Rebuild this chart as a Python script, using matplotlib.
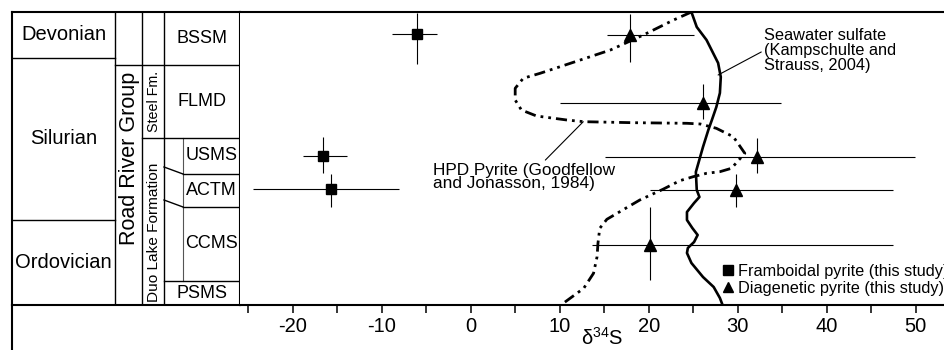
import matplotlib.pyplot as plt
import numpy as np
from matplotlib.lines import Line2D

plt.rcParams['font.family'] = ['Liberation Sans', 'DejaVu Sans']
plt.rcParams['mathtext.fontset'] = 'custom'
plt.rcParams['mathtext.rm'] = 'Liberation Sans'
plt.rcParams['axes.unicode_minus'] = False

# stratigraphic height, 0 = base of PSMS
section_top = 293
periods = ['Devonian', 'Silurian', 'Ordovician']
period_bounds = [293, 247, 85, 0]
members = ['BSSM', 'FLMD', 'USMS', 'ACTM', 'CCMS', 'PSMS']
member_bounds = [293, 240.5, 167.5, 131, 98, 24, 0]
group_base = 240.5      # top of Road River Group
steel_base = 167.5      # Steel Fm. / Duo Lake Formation

# framboidal pyrite (squares)
fram_d34s = [-6.0, -16.6, -15.7]
fram_min = [-8.8, -18.8, -24.5]
fram_max = [-3.8, -13.9, -8.1]
fram_pos = [270.7, 149.3, 115.7]
fram_bot = [241, 132, 98]
fram_top = [292, 168, 131]

# diagenetic pyrite (triangles)
diag_d34s = [17.9, 26.1, 32.2, 29.8, 20.1]
diag_min = [15.3, 10.0, 15.1, 20.1, 13.6]
diag_max = [25.1, 34.9, 49.9, 47.4, 47.4]
diag_pos = [270, 202.3, 148.5, 115.5, 60]
diag_bot = [242.7, 185.7, 131.7, 98.3, 25]
diag_top = [291, 221, 167, 131, 97.7]

# seawater sulfate curve (Kampschulte and Strauss, 2004)
sw_d34s = [24.8, 25.4, 26.5, 27.8, 28.1, 28.0, 27.6, 27.1, 26.7, 26.1, 25.3, 25.4, 25.7,
           25.1, 24.3, 24.3, 24.9, 25.5, 25.1, 24.4, 24.3, 24.8, 26.1, 27.3, 28.0, 28.3]
sw_pos = [293, 278, 265, 242, 228, 212, 198, 185, 175, 158, 133, 115, 108,
          102, 93, 85, 77, 70, 63, 57, 52, 42, 28, 18, 7, 0]

# HPD pyrite curve (Goodfellow and Jonasson, 1984)
hpd_d34s = [24.8, 22.8, 19.4, 15.7, 11.2, 7.8, 5.9, 5.0, 5.0, 5.7, 7.4, 10.8, 12.7, 18.3,
            24.3, 25.8, 27.6, 29.5, 29.9, 30.8, 29.3, 28.0, 26.5, 25.0, 23.5, 21.6, 19.0,
            15.3, 14.5, 14.3, 14.2, 13.8, 12.7, 10.4]
hpd_pos = [293, 285, 270, 255, 241.7, 231.7, 226.7, 216.7, 205, 195, 189, 185, 183.3, 182.3,
           181.7, 181, 176.7, 168.3, 163.3, 151.7, 136.7, 133.3, 131.7, 128.3, 124.3, 115.7, 105,
           85.7, 76.7, 61.7, 48.3, 31.7, 16.7, 1.7]

W, H = 944, 350
fig = plt.figure(figsize=(W / 100, H / 100), dpi=100)
col = fig.add_axes([12 / W, 45 / H, 228 / W, 293 / H])
ax = fig.add_axes([240 / W, 45 / H, 704 / W, 293 / H], sharey=col)

# ---- stratigraphic column ----
col.set_xlim(0, 228)
col.set_ylim(0, section_top)
col.set_xticks([])
col.tick_params(left=False, labelleft=False)
for s in col.spines.values():
    s.set_linewidth(1.5)
lk = dict(color='k', lw=1.0)
for x in [103, 130, 152]:
    col.plot([x, x], [0, section_top], **lk)
col.plot([171, 171], [member_bounds[5], steel_base], color='#555555', lw=0.8)
for y in period_bounds[1:-1]:
    col.plot([0, 103], [y, y], **lk)
col.plot([103, 228], [group_base, group_base], **lk)
col.plot([130, 228], [steel_base, steel_base], **lk)
col.plot([152, 228], [member_bounds[5], member_bounds[5]], **lk)
for y in member_bounds[3:5]:
    col.plot([171, 228], [y, y], **lk)
    col.plot([152, 171], [y + 7, y], **lk)

for i, name in enumerate(periods):
    col.text(51.5, (period_bounds[i] + period_bounds[i + 1]) / 2, name,
             ha='center', va='center', fontsize=14.5)
for i, name in enumerate(members):
    xc = 199.5 if name in ('USMS', 'ACTM', 'CCMS') else 190
    col.text(xc, (member_bounds[i] + member_bounds[i + 1]) / 2, name,
             ha='center', va='center', fontsize=13)
col.text(117, 146.5, 'Road River Group', rotation=90, ha='center', va='center', fontsize=15.5)
col.text(141.5, 204, 'Steel Fm.', rotation=90, ha='center', va='center', fontsize=10.3)
col.text(141.5, 73, 'Duo Lake Formation', rotation=90, ha='center', va='center', fontsize=11.1)

# ---- isotope panel ----
ax.set_xlim(-25.92, 53.18)
ax.set_ylim(0, section_top)
ax.spines['right'].set_visible(False)
ax.spines['left'].set_visible(False)
ax.spines['top'].set_linewidth(1.5)
ax.spines['bottom'].set_linewidth(1.5)
ax.set_xticks(np.arange(-20, 51, 10))
ax.set_xticks(np.arange(-25, 50, 10), minor=True)
ax.tick_params(axis='x', which='both', direction='out', length=6, width=1.1, pad=3,
               labelsize=14.5)
ax.tick_params(axis='y', left=False, labelleft=False)

ax.plot(sw_d34s, sw_pos, color='k', lw=1.9, solid_joinstyle='round')
ax.plot(hpd_d34s, hpd_pos, color='k', lw=2.0, dashes=(4, 1.8, 1, 1.8, 1, 1.8),
        dash_capstyle='butt')

ax.errorbar(fram_d34s, fram_pos,
            xerr=[np.subtract(fram_d34s, fram_min), np.subtract(fram_max, fram_d34s)],
            yerr=[np.subtract(fram_pos, fram_bot), np.subtract(fram_top, fram_pos)],
            fmt='s', color='k', ms=7.5, elinewidth=0.8, capsize=0)
ax.errorbar(diag_d34s, diag_pos,
            xerr=[np.subtract(diag_d34s, diag_min), np.subtract(diag_max, diag_d34s)],
            yerr=[np.subtract(diag_pos, diag_bot), np.subtract(diag_top, diag_pos)],
            fmt='^', color='k', ms=8, elinewidth=0.8, capsize=0)

# text anchored on the baseline of its last line
ax.annotate('Seawater sulfate\n(Kampschulte and\nStrauss, 2004)', xy=(27.8, 230),
            xytext=(32.96, 235), ha='left', va='baseline', fontsize=11.8, linespacing=1.0,
            arrowprops=dict(arrowstyle='-', lw=0.8, color='k', shrinkA=0, shrinkB=0,
                            relpos=(0, 0.5)))
ax.annotate('HPD Pyrite (Goodfellow\nand Jonasson, 1984)', xy=(12.65, 183.3),
            xytext=(-4.2, 116.7), ha='left', va='baseline', fontsize=12.4, linespacing=0.87,
            arrowprops=dict(arrowstyle='-', lw=0.8, color='k', shrinkA=0, shrinkB=0,
                            relpos=(0.6, 1.0)))

handles = [Line2D([], [], marker='s', ls='none', color='k', ms=6.5),
           Line2D([], [], marker='^', ls='none', color='k', ms=7.5)]
ax.legend(handles, ['Framboidal pyrite (this study)', 'Diagenetic pyrite (this study)'],
          loc='upper left', bbox_to_anchor=(0.684, 0.14), frameon=False, fontsize=11.7,
          handlelength=0.8, handletextpad=0.2, labelspacing=0.1, borderpad=0,
          borderaxespad=0)

ax.set_xlabel(r'$\mathregular{\delta^{34}S}$', fontsize=14.5, va='bottom')
ax.xaxis.set_label_coords((602 - 240) / 704, (305 - 349) / 293)

# outer frame continues below the axis
fig.add_artist(Line2D([12 / W, 12 / W], [0, 45 / H], color='k', lw=1.5))

fig.savefig('out.png', dpi=100)
